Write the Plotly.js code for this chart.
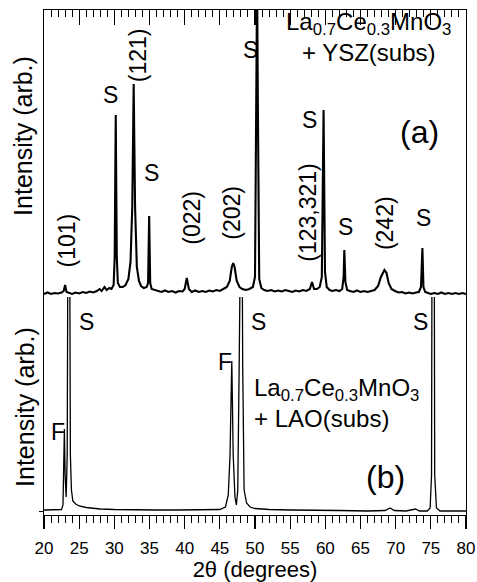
<!DOCTYPE html>
<html>
<head>
<meta charset="utf-8">
<script src="https://cdn.plot.ly/plotly-3.0.1.min.js"></script>
<style>html,body{margin:0;padding:0;background:#fff;}#chart{width:477px;height:582px;}</style>
</head>
<body>
<div id="chart"></div>
<script>
// Panel (a): La0.7Ce0.3MnO3 on YSZ — 2θ (deg) and intensity (arb.)
var topX = [20.0,20.5,21.0,21.5,22.0,22.5,22.8,23.0,23.2,23.5,24.0,24.5,25.0,25.5,26.0,26.5,27.0,27.5,27.9,28.2,28.6,28.9,29.3,29.6,29.9,30.05,30.2,30.35,30.5,30.8,31.2,31.6,32.0,32.3,32.55,32.75,32.95,33.2,33.5,33.8,34.2,34.6,34.8,34.95,35.1,35.3,35.7,36.2,36.7,37.2,37.7,38.2,38.7,39.2,39.7,40.0,40.3,40.6,41.0,41.5,42.0,42.5,43.0,43.5,44.0,44.5,45.0,45.5,46.0,46.4,46.7,46.9,47.1,47.4,47.8,48.2,48.7,49.2,49.7,50.0,50.2,50.3,50.4,50.6,50.9,51.3,51.8,52.3,52.8,53.3,53.8,54.3,54.8,55.3,55.8,56.3,56.8,57.3,57.8,58.1,58.4,58.8,59.2,59.5,59.75,59.95,60.2,60.6,61.0,61.5,62.0,62.4,62.6,62.7,62.85,63.1,63.5,64.0,64.5,65.0,65.5,66.0,66.5,67.0,67.5,67.9,68.4,68.7,69.0,69.4,69.9,70.4,70.9,71.4,71.9,72.4,72.9,73.3,73.6,73.8,73.95,74.2,74.6,75.0,75.5,76.0,76.5,77.0,77.5,78.0,78.5,79.0,79.5,80.0];
var topY = [3,4.5,3,4,3.5,4.5,6,12,5,4,3,4.5,3.5,5,4,5.5,4.5,6,8,6,10,7,9,8,12,40,182,40,14,10,10,12,18,35,90,213,90,30,16,11,9,10,14,81,14,8,7,6,5,6.5,5,6,4.5,6,5.5,8,19,8,5,6.5,5,6,5,6.5,5.5,7,6,8,10,16,30,34,30,16,10,8,7,8,10,20,200,320,200,18,9,7,6,7,5.5,6.5,5.5,7,6,5,6.5,5.5,7,6,8,15,8,8,10,20,187,25,10,7,6,7,6,8,20,47,15,7,6,5,6.5,5,6,5,6,7,11,20,27,24,14,8,6,4.5,5,3.5,4.5,3.5,4.5,5,10,49,10,5,4,3,4,3,4.5,3,4,3,4,3,4,3];

// Panel (b): La0.7Ce0.3MnO3 on LAO
var botX = [20.0,21.0,22.0,22.5,22.7,22.8,22.9,23.0,23.15,23.3,23.45,23.6,23.75,23.9,24.1,24.5,25.0,26.0,27.0,28.0,30.0,33.0,36.0,39.0,42.0,44.0,45.0,45.8,46.2,46.45,46.7,46.9,47.15,47.35,47.55,47.75,47.9,48.1,48.25,48.45,48.8,49.3,50.0,52.0,55.0,58.0,62.0,66.0,68.5,69.2,69.8,71.5,72.8,73.4,74.5,74.9,75.1,75.2,75.45,75.55,75.8,76.3,78.0,80.0];
var botY = [5,5,5,5.5,10,40,86,40,18,60,400,400,60,25,14,11,9,7.5,6.5,6,5.5,5,5,5,5,5,5.5,8,20,60,154,60,18,10,25,150,400,400,150,25,12,8,6.5,5.5,5,4.5,4.5,4,4.5,7,4.5,4,6,4,4,7,40,400,400,40,7,4,4,4];

// Peak labels
var topLabText = ["(101)","S","(121)","S","(022)","(202)","S","S","(123,321)","S","(242)","S"];
var topLabX    = [23.2, 29.5, 33.4, 35.3, 41.0, 46.7, 49.3, 57.8, 57.5, 62.8, 68.5, 73.9];
var topLabY    = [56, 202, 242, 124, 79, 84, 247, 177, 84, 70, 74, 79];
var topLabRot  = [-90, 0, -90, 0, -90, -90, 0, 0, -90, 0, -90, 0];

var botLabText = ["F","S","F","S","S"];
var botLabX    = [22.0, 26.0, 45.7, 50.5, 73.6];
var botLabY    = [83, 193, 153, 193, 193];

var FONT = "Liberation Sans, Arial, Helvetica, sans-serif";

var traces = [
  {x: topX, y: topY, xaxis: "x2", yaxis: "y2", type: "scatter", mode: "lines",
   line: {color: "#000", width: 2.1}, hoverinfo: "skip"},
  {x: botX, y: botY, xaxis: "x", yaxis: "y", type: "scatter", mode: "lines",
   line: {color: "#000", width: 1.3}, hoverinfo: "skip"}
];

var ann = [];
for (var i = 0; i < topLabText.length; i++) {
  ann.push({x: topLabX[i], y: topLabY[i], xref: "x2", yref: "y2", text: topLabText[i],
    showarrow: false, textangle: topLabRot[i], font: {family: FONT, size: 23, color: "#000"},
    xanchor: "center", yanchor: "middle"});
}
for (var j = 0; j < botLabText.length; j++) {
  ann.push({x: botLabX[j], y: botLabY[j], xref: "x", yref: "y", text: botLabText[j],
    showarrow: false, font: {family: FONT, size: 23, color: "#000"},
    xanchor: "center", yanchor: "middle"});
}
ann.push({x: 66.1, y: 260, xref: "x2", yref: "y2", showarrow: false, align: "center",
  text: "La<sub>0.7</sub>Ce<sub>0.3</sub>MnO<sub>3</sub><br>+ YSZ(subs)",
  font: {family: FONT, size: 24, color: "#000"}, xanchor: "center", yanchor: "middle"});
ann.push({x: 73.4, y: 165, xref: "x2", yref: "y2", showarrow: false, text: "(a)",
  font: {family: FONT, size: 32, color: "#000"}, xanchor: "center", yanchor: "middle"});
ann.push({x: 49.57, y: 112, xref: "x", yref: "y", showarrow: false, align: "left",
  text: "La<sub>0.7</sub>Ce<sub>0.3</sub>MnO<sub>3</sub><br>+ LAO(subs)",
  font: {family: FONT, size: 24, color: "#000"}, xanchor: "left", yanchor: "middle"});
ann.push({x: 68.6, y: 38, xref: "x", yref: "y", showarrow: false, text: "(b)",
  font: {family: FONT, size: 32, color: "#000"}, xanchor: "center", yanchor: "middle"});
// y-axis titles
ann.push({x: -0.05, y: 0.7505, xref: "paper", yref: "paper", showarrow: false, textangle: -90,
  text: "Intensity (arb.)", font: {family: FONT, size: 25, color: "#000"}, xanchor: "center", yanchor: "middle"});
ann.push({x: -0.045, y: 0.214, xref: "paper", yref: "paper", showarrow: false, textangle: -90,
  text: "Intensity (arb.)", font: {family: FONT, size: 25, color: "#000"}, xanchor: "center", yanchor: "middle"});

var layout = {
  width: 477, height: 582,
  margin: {l: 44, r: 11, t: 10, b: 67, pad: 0},
  paper_bgcolor: "#fff", plot_bgcolor: "#fff",
  showlegend: false,
  font: {family: FONT, color: "#000"},
  xaxis: {
    anchor: "y", range: [20, 80], tick0: 20, dtick: 5, ticks: "outside", ticklen: 13, tickwidth: 1.2,
    tickcolor: "#000", showline: true, linecolor: "#000", linewidth: 1.3, showgrid: false, zeroline: false,
    tickfont: {family: FONT, size: 17, color: "#000"}, ticklabelstandoff: 4,
    minor: {dtick: 1, ticks: "outside", ticklen: 7, tickwidth: 1, tickcolor: "#000", showgrid: false},
    title: {text: "2θ (degrees)", font: {family: FONT, size: 22, color: "#000"}, standoff: 0}
  },
  xaxis2: {
    anchor: "y2", matches: "x", range: [20, 80], side: "top", tick0: 20, dtick: 5, ticks: "inside",
    ticklen: 15, tickwidth: 1.2, tickcolor: "#000", showticklabels: false,
    showline: true, linecolor: "#000", linewidth: 1.3, showgrid: false, zeroline: false,
    minor: {dtick: 1, ticks: "inside", ticklen: 7, tickwidth: 1, tickcolor: "#000", showgrid: false}
  },
  yaxis: {
    domain: [0, 0.4317], range: [0, 218], showline: true, mirror: true, linecolor: "#000", linewidth: 1.3,
    showgrid: false, zeroline: false, tickvals: [4], ticks: "outside", ticklen: 4, tickcolor: "#000",
    showticklabels: false
  },
  yaxis2: {
    domain: [0.4317, 1], range: [0, 287], showline: true, mirror: true, linecolor: "#000", linewidth: 1.3,
    showgrid: false, zeroline: false, ticks: "", showticklabels: false
  },
  annotations: ann
};

Plotly.newPlot("chart", traces, layout, {displayModeBar: false, staticPlot: true});
</script>
</body>
</html>
